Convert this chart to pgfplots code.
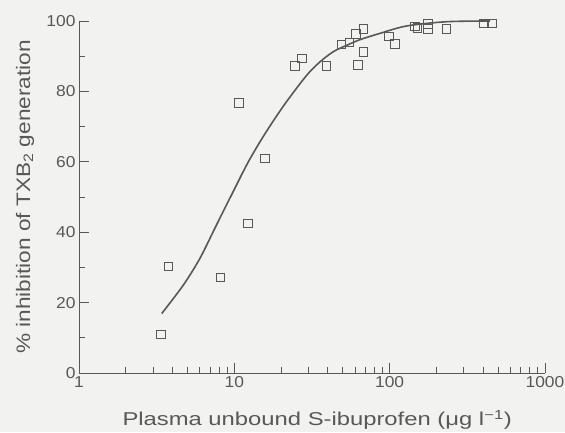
\documentclass[border=0pt]{standalone}
\usepackage{fontspec}
\setmainfont{Liberation Sans}
\newfontfamily\tickfont[FakeStretch=1.1]{Liberation Sans}
\newfontfamily\xlabfont[FakeStretch=1.28]{Liberation Sans}
\newfontfamily\ylabfont[FakeStretch=1.16]{Liberation Sans}
\usepackage{pgfplots}
\pgfplotsset{compat=1.18}
\definecolor{ink}{RGB}{88,88,88}
\definecolor{paper}{RGB}{242,242,240}
\begin{document}
\begin{tikzpicture}
\fill[paper] (-79pt,-59pt) rectangle (486pt,373pt);
\begin{axis}[
  scale only axis, width=466pt, height=352pt,
  xmode=log, xmin=1, xmax=1000, ymin=0, ymax=100,
  axis x line=bottom, axis y line=left,
  axis line style={ink, line width=0.9pt, -},
  every tick/.style={ink, line width=0.9pt},
  tick align=inside,
  major tick length=10pt, minor tick length=6pt,
  ytick={0,20,40,60,80,100}, minor ytick={10,30,50,70,90},
  xtick={1,10,100,1000}, xticklabels={1,10,100,1000},
  log ticks with fixed point,
  /pgf/number format/assume math mode=true,
  ticklabel style={font=\tickfont\fontsize{15.8}{19}\selectfont, text=ink},
  xlabel={\xlabfont\fontsize{18.6}{22}\selectfont Plasma unbound S-ibuprofen (μg l\textsuperscript{\char"2212 1})},
  ylabel={\ylabfont\fontsize{19.5}{22}\selectfont \% inhibition of TXB\textsubscript{2} generation},
  xlabel style={at={(axis description cs:0.511,-0.1497)}, anchor=base, text=ink},
  ylabel style={at={(axis description cs:-0.105,0.50)}, anchor=base, text=ink},
  clip=false,
]
\addplot[ink, line width=1.6pt, smooth] coordinates {
(3.41,16.9) (4.70,25.0) (6.01,32.6) (7.51,41.2) (9.62,50.7) (12.31,60.0)
(15.77,68.0) (21.21,76.5) (29.26,84.6) (35.63,88.4) (43.41,91.3) (52.93,93.1)
(64.47,94.7) (86.75,96.5) (128.9,98.6) (233.2,99.8) (443,100)
};
\addplot[only marks, mark=square, mark size=4.2pt, ink, line width=0.8pt] coordinates {
(3.37,11.0) (3.76,30.2) (8.17,27.1) (10.7,76.7) (12.2,42.5) (15.7,61.0)
(24.6,87.3) (27.3,89.4) (39.2,87.3) (48.7,93.3) (55.1,94.0) (60.5,96.3)
(67.8,97.7) (62.6,87.5) (67.8,91.2) (99.1,95.7) (108,93.5)
(145,98.5) (151,98.0) (176,99.2) (176,97.8) (231,97.8) (405,99.4) (456,99.4)
};
\end{axis}
\pgfresetboundingbox
\path[use as bounding box] (-79pt,-59pt) rectangle (486pt,373pt);
\end{tikzpicture}
\end{document}
